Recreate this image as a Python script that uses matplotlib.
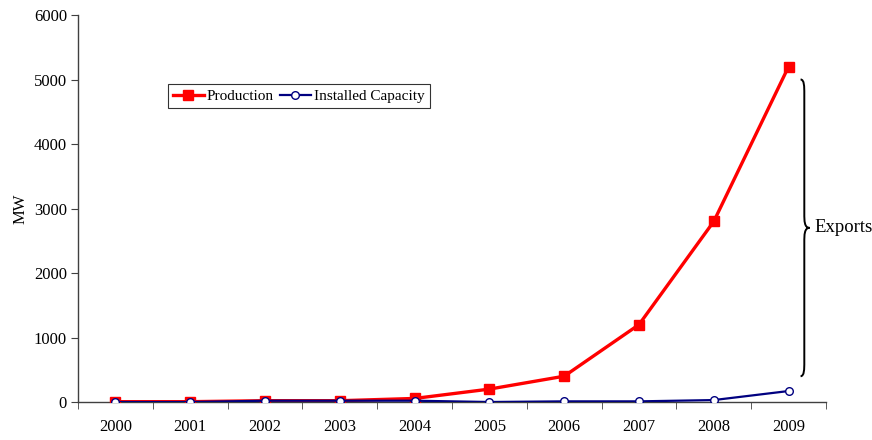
import matplotlib.pyplot as plt
import numpy as np
from matplotlib.path import Path
from matplotlib.patches import PathPatch

plt.rcParams['font.family'] = ['Liberation Serif', 'DejaVu Serif']

years = ['2000', '2001', '2002', '2003', '2004', '2005', '2006', '2007', '2008', '2009']
production = [5, 5, 20, 20, 55, 200, 400, 1200, 2800, 5200]
installed_capacity = [0, 0, 20, 20, 20, 0, 10, 10, 30, 170]

fig = plt.figure(figsize=(8.72, 4.4), dpi=100)
ax = fig.add_axes([78 / 872, 1 - 402 / 440, 748 / 872, 387 / 440])

x = np.arange(len(years))
ax.plot(x, production, color='#ff0000', lw=2.4, marker='s', markersize=7.5,
        label='Production', zorder=3)
ax.plot(x, installed_capacity, color='#000080', lw=1.6, marker='o', markersize=5.5,
        markerfacecolor='white', markeredgecolor='#000080', markeredgewidth=1.0,
        label='Installed Capacity', zorder=4)

ax.set_xlim(-0.5, len(years) - 0.5)
ax.set_ylim(0, 6000)
ax.set_yticks(range(0, 6001, 1000))
ax.set_xticks(x)
ax.set_xticklabels(years)
ax.set_xticks(np.arange(-0.5, len(years)), minor=True)
ax.tick_params(axis='x', which='major', length=0, pad=12, labelsize=12)
ax.tick_params(axis='x', which='minor', length=5, direction='out', color='#404040')
ax.tick_params(axis='y', length=5, direction='out', labelsize=12, pad=3, color='#404040')
ax.set_ylabel('MW', fontsize=12, labelpad=4)

for side in ['top', 'right']:
    ax.spines[side].set_visible(False)
for side in ['left', 'bottom']:
    ax.spines[side].set_color('#404040')
    ax.spines[side].set_linewidth(1.0)

leg = ax.legend(loc='upper left', bbox_to_anchor=(0.12, 0.822), ncol=2, fontsize=11,
                frameon=True, fancybox=False, borderaxespad=0, handlelength=2.0,
                handletextpad=0.2, columnspacing=0.4, borderpad=0.35)
leg.get_frame().set_edgecolor('black')
leg.get_frame().set_linewidth(0.8)

# curly brace marking the gap between production and capacity in 2009
top = production[-1] - 200
bot = installed_capacity[-1] + 230
mid = (top + bot) / 2
x0, x1, xt = 9.16, 9.21, 9.28
c = 110
verts = [(x0, top), (x1, top), (x1, top - c), (x1, top - 2 * c),
         (x1, mid + 2 * c),
         (x1, mid + c), (x1, mid), (xt, mid),
         (x1, mid), (x1, mid - c), (x1, mid - 2 * c),
         (x1, bot + 2 * c),
         (x1, bot + c), (x1, bot), (x0, bot)]
codes = [Path.MOVETO, Path.CURVE4, Path.CURVE4, Path.CURVE4,
         Path.LINETO,
         Path.CURVE4, Path.CURVE4, Path.CURVE4,
         Path.CURVE4, Path.CURVE4, Path.CURVE4,
         Path.LINETO,
         Path.CURVE4, Path.CURVE4, Path.CURVE4]
ax.add_patch(PathPatch(Path(verts, codes), fill=False, lw=1.4, color='black', clip_on=False))
ax.text(9.34, mid, 'Exports', fontsize=13.5, va='center', ha='left')

plt.savefig('out.png', dpi=100)
